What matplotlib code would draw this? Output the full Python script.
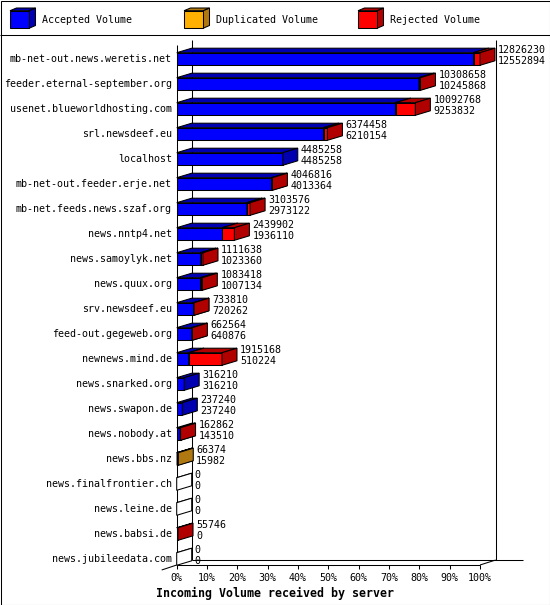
import matplotlib
matplotlib.use("Agg")
import matplotlib.pyplot as plt
import matplotlib.transforms as mtransforms
from matplotlib.patches import Polygon, Rectangle

# Data
servers = [
    "mb-net-out.news.weretis.net", "feeder.eternal-september.org",
    "usenet.blueworldhosting.com", "srl.newsdeef.eu", "localhost",
    "mb-net-out.feeder.erje.net", "mb-net.feeds.news.szaf.org",
    "news.nntp4.net", "news.samoylyk.net", "news.quux.org",
    "srv.newsdeef.eu", "feed-out.gegeweb.org", "newnews.mind.de",
    "news.snarked.org", "news.swapon.de", "news.nobody.at", "news.bbs.nz",
    "news.finalfrontier.ch", "news.leine.de", "news.babsi.de",
    "news.jubileedata.com",
]
total_volume = [12826230, 10308658, 10092768, 6374458, 4485258, 4046816,
                3103576, 2439902, 1111638, 1083418, 733810, 662564, 1915168,
                316210, 237240, 162862, 66374, 0, 0, 55746, 0]
accepted_volume = [12552894, 10245868, 9253832, 6210154, 4485258, 4013364,
                   2973122, 1936110, 1023360, 1007134, 720262, 640876, 510224,
                   316210, 237240, 143510, 15982, 0, 0, 0, 0]
duplicated_volume = [0, 0, 0, 0, 0, 0, 0, 0, 0, 0, 0, 0, 0,
                     0, 0, 0, 50392, 0, 0, 0, 0]
rejected_volume = [t - a - d for t, a, d in
                   zip(total_volume, accepted_volume, duplicated_volume)]
pct_ticks = list(range(0, 101, 10))

series = [("Accepted Volume", accepted_volume, "#0000ff", "#0000b0"),
          ("Duplicated Volume", duplicated_volume, "#ffb000", "#b07810"),
          ("Rejected Volume", rejected_volume, "#ff0000", "#b00000")]

W, H = 550, 605
X0, PX_PCT = 176.7, 3.033        # pixel of 0 %, pixels per percent
ROW0, ROWPX = 59.0, 25.0         # pixel of first row, pixels per row
DEPTH_X, DEPTH_Y, HALF = 15, 4.5, 6.3
MONO = "DejaVu Sans Mono"
LW = 0.75

fig = plt.figure(figsize=(W / 100, H / 100), dpi=100)
ax = fig.add_axes([0, 0, 1, 1])
ax.set_axis_off()
ax.set_xlim(-X0 / PX_PCT, (W - X0) / PX_PCT)
ax.set_ylim((H - ROW0) / ROWPX, -ROW0 / ROWPX)

# pixel transform (origin top-left) for frame decorations
pix = mtransforms.Affine2D().scale(1, -1).translate(0, H)

dx = DEPTH_X / PX_PCT
dy = DEPTH_Y / ROWPX
hh = HALF / ROWPX


def line(xs, ys):
    ax.plot(xs, ys, color="black", lw=LW, transform=pix,
            solid_capstyle="butt", zorder=0.5)


# frame
ax.add_patch(Rectangle((0.5, 0.5), W - 1, H - 1, fill=False, lw=LW,
                       edgecolor="black", transform=pix))
line([0, W], [35, 35])
line([X0, X0], [45, 565])
line([X0 + 15, X0 + 15], [40, 560])
line([495.7, 495.7], [40, 560])
line([X0 + 15, 523], [560, 560])
line([X0, 480], [565, 565])
line([480, 495.7], [565, 560])
line([161.7, X0], [570, 565])

# ticks along the front floor
for p in pct_ticks:
    xd = ax.transData.transform((p, 0))[0]
    line([xd, xd], [565, 568.5])
    ax.text(p, (578 - ROW0) / ROWPX, f"{p}%", ha="center", va="center",
            family=MONO, fontsize=7.2)


def box(a, b, r, front, dark):
    ax.add_patch(Rectangle((a, r - hh), b - a, 2 * hh, facecolor=front,
                           edgecolor="black", lw=LW, zorder=2))
    ax.add_patch(Polygon([(a, r - hh), (a + dx, r - hh - dy),
                          (b + dx, r - hh - dy), (b, r - hh)],
                         closed=True, facecolor=dark, edgecolor="black",
                         lw=LW, zorder=2))
    ax.add_patch(Polygon([(b, r - hh), (b + dx, r - hh - dy),
                          (b + dx, r + hh - dy), (b, r + hh)],
                         closed=True, facecolor=dark, edgecolor="black",
                         lw=LW, zorder=2))


vmax = max(total_volume)
for r, name in enumerate(servers):
    ax.text((172 - X0) / PX_PCT, r, name, ha="right", va="center",
            family=MONO, fontsize=7.2)
    start = 0.0
    for _, vals, front, dark in series:
        w = vals[r] / vmax * 100
        if w > 0:
            box(start, start + w, r, front, dark)
            start += w
    if total_volume[r] == 0:
        box(0, 0, r, "white", "white")
    xl = start + dx + 3 / PX_PCT
    ax.text(xl, r - 9 / ROWPX, str(total_volume[r]), ha="left", va="center",
            family=MONO, fontsize=7.2)
    ax.text(xl, r + 2 / ROWPX, str(accepted_volume[r]), ha="left",
            va="center", family=MONO, fontsize=7.2)

# legend
for i, (label, _, front, dark) in enumerate(series):
    x = 10 + 174 * i
    ax.add_patch(Polygon([(x + 19, 10.7), (x + 25.5, 8), (x + 25.5, 25.5),
                          (x + 19, 28.3)], closed=True, facecolor=dark,
                         edgecolor="black", lw=LW, transform=pix))
    ax.add_patch(Polygon([(x, 10.7), (x + 6.5, 8), (x + 25.5, 8),
                          (x + 19, 10.7)], closed=True, facecolor=dark,
                         edgecolor="black", lw=LW, transform=pix))
    ax.add_patch(Rectangle((x, 10.7), 19, 17.6, facecolor=front,
                           edgecolor="black", lw=LW, transform=pix))
    ax.text(x + 32, 20, label, ha="left", va="center", family=MONO,
            fontsize=7.2, transform=pix)

ax.text(W / 2, 593, "Incoming Volume received by server", ha="center",
        va="center", family=MONO, fontsize=8.4, fontweight="bold",
        transform=pix)

fig.savefig("out.png", dpi=100)
